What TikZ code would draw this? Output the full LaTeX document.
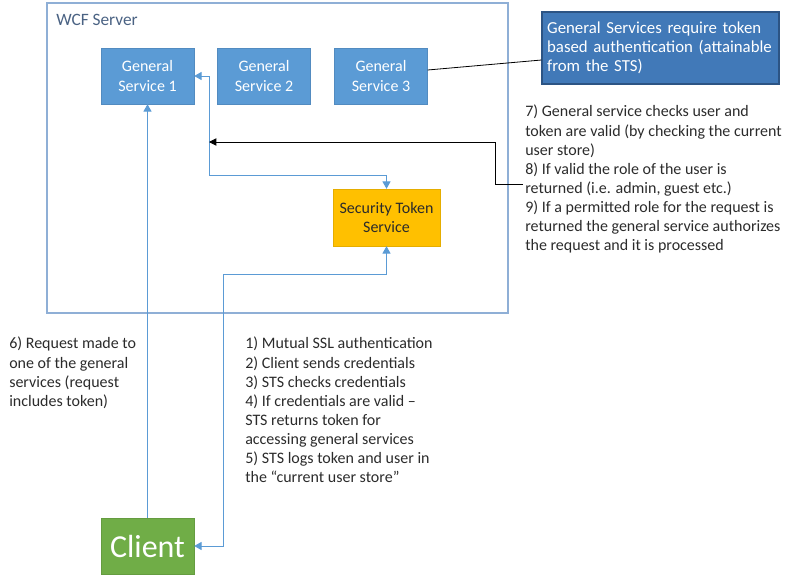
\documentclass[tikz,border=0pt]{standalone}
\usepackage{fontspec}
\setmainfont{Carlito}
\usetikzlibrary{calc,arrows.meta}

\definecolor{svcblue}{HTML}{5B9BD5}
\definecolor{frameblue}{HTML}{8FAFD6}
\definecolor{notefill}{HTML}{4179B8}
\definecolor{noteline}{HTML}{2C5484}
\definecolor{stsgold}{HTML}{FFC000}
\definecolor{clientgreen}{HTML}{70AD47}
\definecolor{bodytext}{HTML}{2B2B2B}
\definecolor{serverlabel}{HTML}{4A6283}

\begin{document}
\begin{tikzpicture}[
  x=0.75pt, y=-0.75pt,
  every node/.style={font=\fontsize{12}{14.3}\selectfont, text=bodytext},
  service/.style={rectangle, fill=svcblue, draw=svcblue!90!black, line width=0.3pt,
    minimum width=69.75pt, minimum height=42pt, align=center, text=white},
  stsbox/.style={service, fill=stsgold, draw=stsgold!90!black,
    minimum width=80.25pt, minimum height=42.75pt, text=bodytext},
  clientbox/.style={service, fill=clientgreen, draw=clientgreen!90!black,
    font=\fontsize{24}{27}\selectfont, text=white},
  notebox/.style={rectangle, fill=notefill, draw=noteline, line width=0.8pt,
    minimum width=177.75pt, minimum height=54pt, align=left, text width=170pt,
    inner sep=3pt, text=white, font=\fontsize{12.6}{14.2}\selectfont},
  steps/.style={align=left, anchor=north west, inner sep=0pt},
  flow/.style={draw=svcblue, line width=0.75pt, {Triangle[length=5.5pt,width=6pt]}-{Triangle[length=5.5pt,width=6pt]}},
  upflow/.style={draw=svcblue, line width=0.75pt, -{Triangle[length=5.5pt,width=6pt]}},
  check/.style={draw=black, line width=0.6pt, -{Triangle[length=5.5pt,width=5.5pt]}}
]
\useasboundingbox (0,0) rectangle (795,582);

% server frame
\draw[frameblue, line width=0.8pt] (47,3) rectangle (508,313);
\node[anchor=west, inner sep=0pt, text=serverlabel, font=\fontsize{13}{15}\selectfont] (wcf) at (56,20) {WCF Server};

% services
\node[service] (gs1) at (147.5,76) {General\\Service 1};
\node[service] (gs2) at (264,76) {General\\Service 2};
\node[service] (gs3) at (381,76) {General\\Service 3};
\node[stsbox] (sts) at (386.5,217.5) {Security Token\\Service};
\node[clientbox] (client) at (147.5,546) {Client};

% note
\node[notebox] (note) at (660.5,48) {General Services require token based authentication (attainable from the STS)};
\draw[black, line width=0.6pt] ($(gs3.east)+(0,-6)$) -- ($(note.west)+(0,12)$);

% step texts
\node[steps] (req) at (9,337) {6) Request made to\\one of the general\\services (request\\includes token)};
\node[steps] (auth) at (245,337) {1) Mutual SSL authentication\\2) Client sends credentials\\3) STS checks credentials\\4) If credentials are valid --\\STS returns token for\\accessing general services\\5) STS logs token and user in\\the “current user store”};
\node[steps] (valid) at (525,105) {7) General service checks user and\\token are valid (by checking the current\\user store)\\8) If valid the role of the user is\\returned (i.e. admin, guest etc.)\\9) If a permitted role for the request is\\returned the general service authorizes\\the request and it is processed};

% connectors
\coordinate (j1) at (209,175);
\coordinate (j2) at (209,142);
\coordinate (j3) at (223,274);
\coordinate (t8) at (523,184);
\draw[flow] (gs1.east) -| (j1) -| (sts.north);
\draw[check] (t8) -- (495,184) |- (j2);
\draw[flow] (sts.south) |- (j3) |- (client.east);
\draw[upflow] (client.north) -- (gs1.south);
\end{tikzpicture}
\end{document}
